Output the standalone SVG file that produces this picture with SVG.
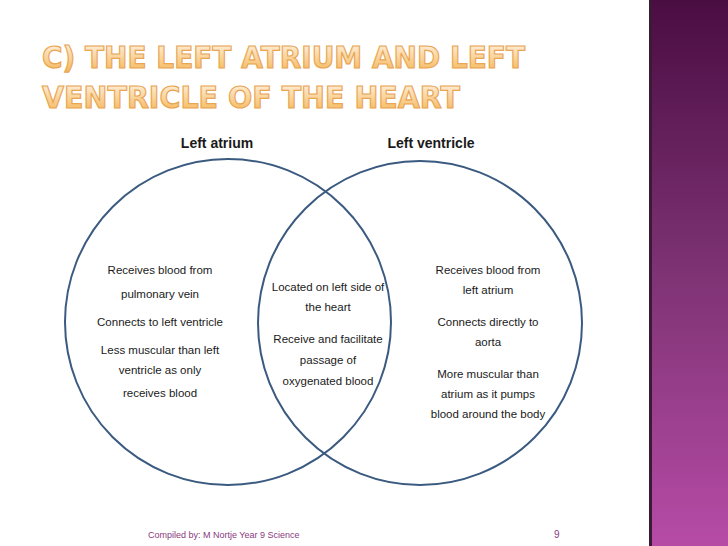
<svg xmlns="http://www.w3.org/2000/svg" width="728" height="546" viewBox="0 0 728 546">
<defs>
<linearGradient id="bar" x1="0" y1="0" x2="0" y2="1"><stop offset="0" stop-color="#4a0d42"/><stop offset="0.5" stop-color="#7e3374"/><stop offset="1" stop-color="#b64ba6"/></linearGradient>
<linearGradient id="tg" x1="0" y1="0" x2="0" y2="1"><stop offset="0" stop-color="#fff6ea"/><stop offset="1" stop-color="#f4b24e"/></linearGradient>
<style>
.t{font-family:"Liberation Sans",Arial,sans-serif;font-size:11.5px;fill:#1a1a1a;text-anchor:middle}
.h{font-family:"Liberation Sans",Arial,sans-serif;font-size:14px;font-weight:bold;fill:#1a1a1a;text-anchor:middle}
.title{font-family:"DejaVu Sans",sans-serif;font-weight:bold;font-size:30px;fill:url(#tg);stroke:#e8a553;stroke-width:1.2}
.c{fill:none;stroke:#3b5a80;stroke-width:2}
</style>
</defs>
<rect width="728" height="546" fill="#ffffff"/>
<rect x="649" y="0" width="79" height="546" fill="url(#bar)"/>
<rect x="649" y="0" width="3" height="546" fill="#3a1a36"/>
<g id="title">
<text class="title" x="42" y="68" textLength="483" lengthAdjust="spacingAndGlyphs">C) THE LEFT ATRIUM AND LEFT</text>
<text class="title" x="42" y="108" textLength="418" lengthAdjust="spacingAndGlyphs">VENTRICLE OF THE HEART</text>
</g>
<g id="connectors">
<circle class="c" cx="228" cy="322" r="163"/>
<circle class="c" cx="420" cy="323" r="162"/>
</g>
<g id="left">
<text class="h" x="217" y="148">Left atrium</text>
<text class="t" x="160" y="274">Receives blood from</text>
<text class="t" x="160" y="298">pulmonary vein</text>
<text class="t" x="160" y="326">Connects to left ventricle</text>
<text class="t" x="160" y="354">Less muscular than left</text>
<text class="t" x="160" y="374">ventricle as only</text>
<text class="t" x="160" y="397">receives blood</text>
</g>
<g id="middle">
<text class="t" x="328" y="291">Located on left side of</text>
<text class="t" x="328" y="311">the heart</text>
<text class="t" x="328" y="343">Receive and facilitate</text>
<text class="t" x="328" y="364">passage of</text>
<text class="t" x="328" y="385">oxygenated blood</text>
</g>
<g id="right">
<text class="h" x="431" y="148">Left ventricle</text>
<text class="t" x="488" y="274">Receives blood from</text>
<text class="t" x="488" y="294">left atrium</text>
<text class="t" x="488" y="326">Connects directly to</text>
<text class="t" x="488" y="346">aorta</text>
<text class="t" x="488" y="378">More muscular than</text>
<text class="t" x="488" y="398">atrium as it pumps</text>
<text class="t" x="488" y="418">blood around the body</text>
</g>
<g id="footer">
<text x="148" y="538" style="font-family:'Liberation Sans',sans-serif;font-size:9px;fill:#8a3a80">Compiled by: M Nortje Year 9 Science</text>
<text x="554" y="538" style="font-family:'Liberation Sans',sans-serif;font-size:10px;fill:#8a3a80">9</text>
</g>
</svg>
